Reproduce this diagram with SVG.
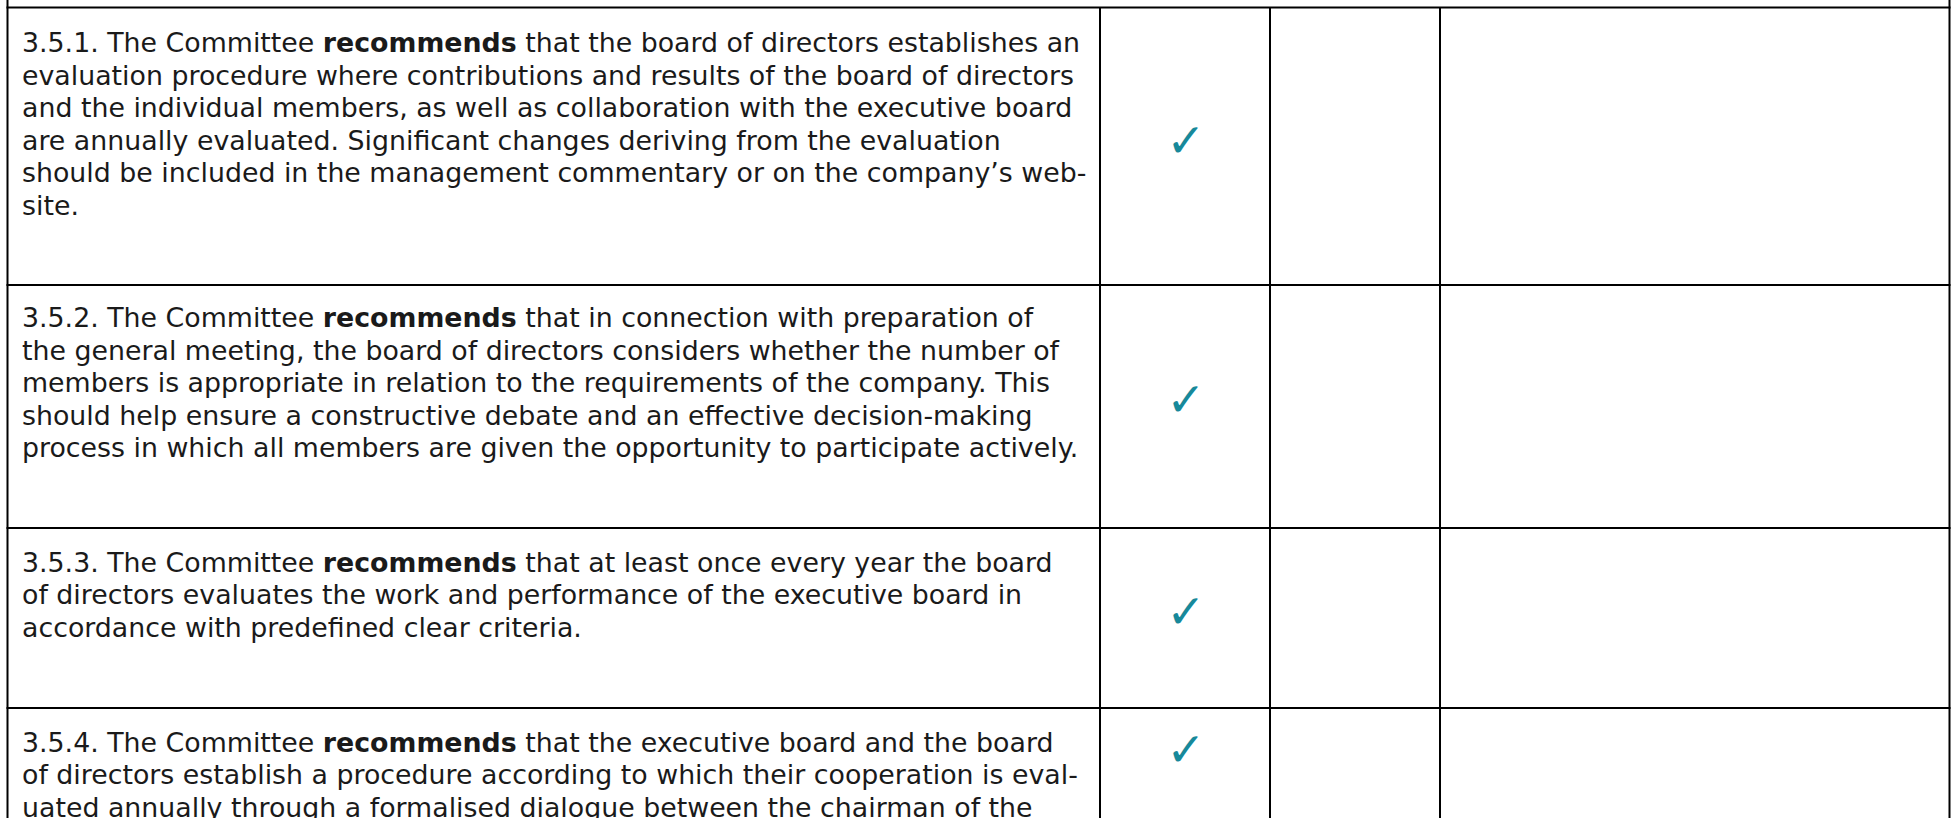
<svg xmlns="http://www.w3.org/2000/svg" width="1951" height="818" viewBox="0 0 1951 818">
<style>
.t{font-family:"DejaVu Sans","Liberation Sans",sans-serif;font-size:26.8px;fill:#1a1a1a}
.b{font-weight:bold}
.ck{font-family:"DejaVu Sans",sans-serif;font-size:47px;font-weight:bold;fill:#17899a;text-anchor:middle}
.ln{stroke:#000;stroke-width:2;fill:none}
</style>
<rect width="1951" height="818" fill="#fff"/>
<g id="grid">
<line class="ln" x1="7.5" y1="0" x2="7.5" y2="818"/>
<line class="ln" x1="1949.5" y1="0" x2="1949.5" y2="818"/>
<line class="ln" x1="6.5" y1="7.5" x2="1950.5" y2="7.5"/>
<line class="ln" x1="1100" y1="7.5" x2="1100" y2="818"/>
<line class="ln" x1="1270" y1="7.5" x2="1270" y2="818"/>
<line class="ln" x1="1440" y1="7.5" x2="1440" y2="818"/>
<line class="ln" x1="6.5" y1="285" x2="1950.5" y2="285"/>
<line class="ln" x1="6.5" y1="528" x2="1950.5" y2="528"/>
<line class="ln" x1="6.5" y1="708" x2="1950.5" y2="708"/>
</g>
<g id="row1">
<text class="t" x="22" y="52">3.5.1. The Committee <tspan class="b">recommends</tspan> that the board of directors establishes an</text>
<text class="t" x="22" y="84.5">evaluation procedure where contributions and results of the board of directors</text>
<text class="t" x="22" y="117">and the individual members, as well as collaboration with the executive board</text>
<text class="t" x="22" y="149.5">are annually evaluated. Significant changes deriving from the evaluation</text>
<text class="t" x="22" y="182">should be included in the management commentary or on the company’s web-</text>
<text class="t" x="22" y="214.5">site.</text>
<text class="ck" x="1186" y="157">✓</text>
</g>
<g id="row2">
<text class="t" x="22" y="327">3.5.2. The Committee <tspan class="b">recommends</tspan> that in connection with preparation of</text>
<text class="t" x="22" y="359.5">the general meeting, the board of directors considers whether the number of</text>
<text class="t" x="22" y="392">members is appropriate in relation to the requirements of the company. This</text>
<text class="t" x="22" y="424.5">should help ensure a constructive debate and an effective decision-making</text>
<text class="t" x="22" y="457">process in which all members are given the opportunity to participate actively.</text>
<text class="ck" x="1186" y="416">✓</text>
</g>
<g id="row3">
<text class="t" x="22" y="571.5">3.5.3. The Committee <tspan class="b">recommends</tspan> that at least once every year the board</text>
<text class="t" x="22" y="604">of directors evaluates the work and performance of the executive board in</text>
<text class="t" x="22" y="636.5">accordance with predefined clear criteria.</text>
<text class="ck" x="1186" y="628">✓</text>
</g>
<g id="row4">
<text class="t" x="22" y="751.5">3.5.4. The Committee <tspan class="b">recommends</tspan> that the executive board and the board</text>
<text class="t" x="22" y="784">of directors establish a procedure according to which their cooperation is eval-</text>
<text class="t" x="22" y="816.5">uated annually through a formalised dialogue between the chairman of the</text>
<text class="ck" x="1186" y="766">✓</text>
</g>
</svg>
